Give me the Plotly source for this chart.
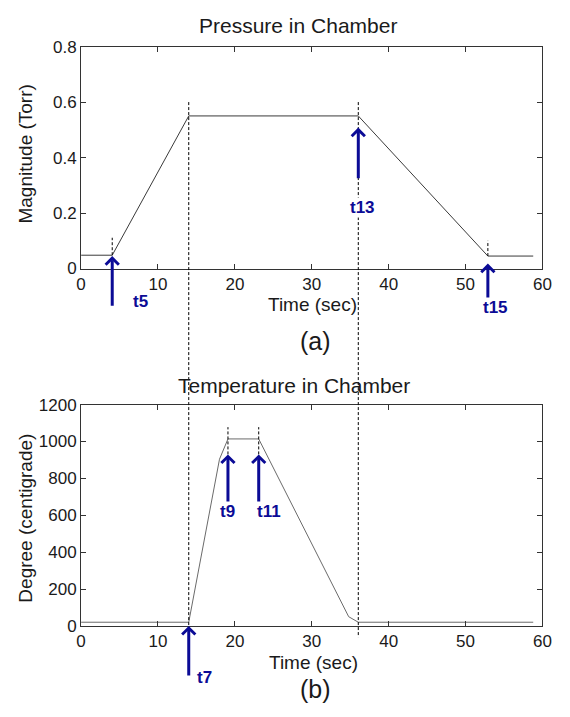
import plotly.graph_objects as go

# ---------------- data ----------------
time_p = [0, 4.05, 14.0, 36.05, 52.9, 58.8]
pressure = [0.048, 0.048, 0.55, 0.55, 0.045, 0.045]

time_t = [0, 14.0, 18.0, 19.1, 23.1, 34.8, 36.05, 58.8]
temperature = [20, 20, 904, 1014, 1014, 50, 20, 20]

# pressure events
p_names = ["t5", "t13", "t15"]
p_time = [4.05, 36.05, 52.9]
p_tip = [0.045, 0.508, 0.018]
p_tail = [-0.135, 0.325, -0.155]
p_lab_x = [6.6, 36.6, 55.6]
p_lab_y = [-0.118, 0.259, -0.14]
p_dash_lo = [0.048, None, 0.045]
p_dash_hi = [0.111, None, 0.10]

# temperature events
t_names = ["t7", "t9", "t11"]
t_time = [14.0, 19.1, 23.1]
t_tip = [0, 930, 930]
t_tail = [-270, 662, 662]
t_lab_x = [16.0, 19.0, 24.4]
t_lab_y = [-336, 566, 566]
t_dash_lo = [None, 930, 930]
t_dash_hi = [None, 1078, 1078]

# long guide lines spanning both panels
guide_time = [14.0, 36.05]
guide_top_p = [0.6, 0.6]
guide_bot_t = [0, -61]

x_ticks = [0, 10, 20, 30, 40, 50, 60]
p_ticks = [0, 0.2, 0.4, 0.6, 0.8]
p_tick_text = ["0", "0.2", "0.4", "0.6", "0.8"]
t_ticks = [0, 200, 400, 600, 800, 1000, 1200]

# ---------------- layout constants ----------------
W, H = 570, 717
XDOM = [78 / W, 551 / W]
YDOM1 = [1 - 266.6 / H, 1 - 38.6 / H]
YDOM2 = [1 - 633.7 / H, 1 - 406.4 / H]
XR = [0, 60]
PR = [0, 0.8]
TR = [0, 1200]
FONT = "Liberation Sans, Arial, sans-serif"
INK = "#1a1a1a"
BLUE = "#0b0b96"


def to_paper(v, rng, dom):
    return dom[0] + (v - rng[0]) / (rng[1] - rng[0]) * (dom[1] - dom[0])


fig = go.Figure()
fig.add_trace(go.Scatter(x=time_p, y=pressure, mode="lines",
                         line=dict(color="#3a3a3a", width=1),
                         xaxis="x", yaxis="y", showlegend=False, hoverinfo="skip"))
fig.add_trace(go.Scatter(x=time_t, y=temperature, mode="lines",
                         line=dict(color="#6a6a6a", width=1),
                         xaxis="x2", yaxis="y2", showlegend=False, hoverinfo="skip"))

shapes = []
dash = "3px,2px"
for gx, gtop, gbot in zip(guide_time, guide_top_p, guide_bot_t):
    shapes.append(dict(type="line", xref="x", yref="paper",
                       x0=gx, x1=gx,
                       y0=to_paper(gtop, PR, YDOM1), y1=to_paper(gbot, TR, YDOM2),
                       line=dict(color="black", width=1, dash=dash)))
for px, lo, hi in zip(p_time, p_dash_lo, p_dash_hi):
    if lo is not None:
        shapes.append(dict(type="line", xref="x", yref="y", x0=px, x1=px, y0=lo, y1=hi,
                           line=dict(color="black", width=1, dash=dash)))
for tx, lo, hi in zip(t_time, t_dash_lo, t_dash_hi):
    if lo is not None:
        shapes.append(dict(type="line", xref="x2", yref="y2", x0=tx, x1=tx, y0=lo, y1=hi,
                           line=dict(color="black", width=1, dash=dash)))

ann = []


def add_events(names, times, tips, tails, lxs, lys, rng, dom):
    for name, tx, tip, tail, lx, ly in zip(names, times, tips, tails, lxs, lys):
        xp = to_paper(tx, XR, XDOM)
        tip_p = to_paper(tip, rng, dom)
        tail_p = to_paper(tail, rng, dom)
        ann.append(dict(x=xp, y=tip_p, ax=0, ay=(tip_p - tail_p) * H,
                        xref="paper", yref="paper", axref="pixel", ayref="pixel",
                        text="", showarrow=True, arrowhead=4, arrowsize=0.85, arrowwidth=3,
                        arrowcolor=BLUE, standoff=0))
        ann.append(dict(x=to_paper(lx, XR, XDOM), y=to_paper(ly, rng, dom),
                        xref="paper", yref="paper", text="<b>%s</b>" % name, showarrow=False,
                        font=dict(family=FONT, size=17, color=BLUE), bgcolor="white", borderpad=0))


add_events(p_names, p_time, p_tip, p_tail, p_lab_x, p_lab_y, PR, YDOM1)
add_events(t_names, t_time, t_tip, t_tail, t_lab_x, t_lab_y, TR, YDOM2)


def txt(s, x, y, size, angle=0):
    ann.append(dict(text=s, x=x / W, y=1 - y / H, xref="paper", yref="paper", showarrow=False,
                    textangle=angle, xanchor="center", yanchor="middle",
                    font=dict(family=FONT, size=size, color=INK)))


txt("Pressure in Chamber", 300, 17, 21)
txt("Magnitude (Torr)", 21, 149, 19, -90)
txt("Time (sec)", 315, 304, 19)
txt("(a)", 318, 341, 25)
txt("Temperature in Chamber", 296, 387, 21)
txt("Degree (centigrade)", 21, 523, 19, -90)
txt("Time (sec)", 316, 671, 19)
txt("(b)", 318, 698, 25)

axis_common = dict(showline=True, linecolor="#333", linewidth=1, mirror="ticks",
                   ticks="inside", ticklen=5, tickcolor="#333", showgrid=False,
                   zeroline=False, tickfont=dict(family=FONT, size=17, color=INK))

fig.update_layout(
    width=W, height=H,
    margin=dict(l=0, r=0, t=0, b=0),
    paper_bgcolor="white", plot_bgcolor="white",
    showlegend=False,
    xaxis=dict(domain=XDOM, range=XR, tickvals=x_ticks, anchor="y", **axis_common),
    yaxis=dict(domain=YDOM1, range=PR, tickvals=p_ticks, ticktext=p_tick_text, anchor="x",
               **axis_common),
    xaxis2=dict(domain=XDOM, range=XR, tickvals=x_ticks, anchor="y2", **axis_common),
    yaxis2=dict(domain=YDOM2, range=TR, tickvals=t_ticks, anchor="x2", **axis_common),
    shapes=shapes,
    annotations=ann,
)

fig.write_html("out.html", config={"displayModeBar": False},
               post_script="document.body.style.margin='0';")
